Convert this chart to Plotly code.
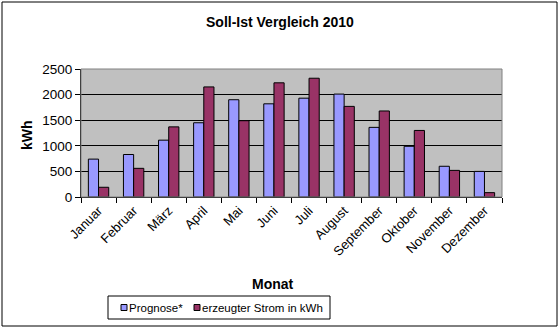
import plotly.graph_objects as go

months = ["Januar", "Februar", "März", "April", "Mai", "Juni", "Juli",
          "August", "September", "Oktober", "November", "Dezember"]
prognose = [740, 830, 1110, 1450, 1900, 1820, 1930, 2010, 1360, 990, 600, 500]
erzeugt = [190, 560, 1370, 2150, 1490, 2230, 2320, 1770, 1680, 1300, 520, 85]
y_ticks = [0, 500, 1000, 1500, 2000, 2500]
series_names = ["Prognose*", "erzeugter Strom in kWh"]
series_colors = ["#9999FF", "#993366"]

W, H = 559, 329
L, R, T, B = 81, 502, 69, 197

def px(x):
    return (x - L) / (R - L)

def py(y):
    return (B - y) / (B - T)

font = "Liberation Sans, Arial, sans-serif"

fig = go.Figure()
for vals, name, col in zip([prognose, erzeugt], series_names, series_colors):
    fig.add_trace(go.Bar(x=months, y=vals, name=name, showlegend=False,
                         marker=dict(color=col, line=dict(color="black", width=1))))

# custom compact legend
legend_items = [(121, 129, series_names[0]), (194, 202, series_names[1])]
shapes = [
    dict(type="rect", xref="paper", yref="paper", x0=px(2), x1=px(557), y0=py(2), y1=py(326),
         line=dict(color="black", width=1), layer="below"),
    dict(type="rect", xref="paper", yref="paper", x0=0, x1=1, y0=0, y1=1,
         line=dict(color="#808080", width=1), layer="above"),
    dict(type="rect", xref="paper", yref="paper", x0=px(108), x1=px(330), y0=py(296), y1=py(319),
         line=dict(color="black", width=1), fillcolor="white", layer="above"),
]
annotations = [
    dict(text="<b>Soll-Ist Vergleich 2010</b>", x=px(280), y=py(22), xref="paper", yref="paper",
         showarrow=False, font=dict(size=14), xanchor="center", yanchor="middle"),
    dict(text="<b>kWh</b>", x=px(27), y=py(135), xref="paper", yref="paper",
         showarrow=False, textangle=-90, font=dict(size=14), xanchor="center", yanchor="middle"),
    dict(text="<b>Monat</b>", x=px(273), y=py(284), xref="paper", yref="paper",
         showarrow=False, font=dict(size=14), xanchor="center", yanchor="middle"),
]
for (sx, tx, name), col in zip(legend_items, series_colors):
    shapes.append(dict(type="rect", xref="paper", yref="paper", x0=px(sx), x1=px(sx + 6),
                       y0=py(304.5), y1=py(310.5), line=dict(color="black", width=1),
                       fillcolor=col, layer="above"))
    annotations.append(dict(text=name, x=px(tx - 2), y=py(308), xref="paper", yref="paper",
                            showarrow=False, font=dict(size=11.5), xanchor="left", yanchor="middle"))

fig.update_layout(
    width=W, height=H,
    margin=dict(l=L, r=W - R, t=T, b=H - B, autoexpand=False),
    paper_bgcolor="white", plot_bgcolor="#C0C0C0",
    barmode="group", bargap=0.42, bargroupgap=0,
    font=dict(family=font, size=12, color="black"),
    showlegend=False,
    xaxis=dict(type="category", tickangle=-45, ticks="outside", ticklen=5,
               tickson="boundaries", tickcolor="black", showline=True, linecolor="black",
               linewidth=1, showgrid=False, tickfont=dict(size=13), automargin=False),
    yaxis=dict(range=[0, 2500], tickvals=y_ticks, ticks="outside", ticklen=5,
               tickcolor="black", showline=True, linecolor="black", linewidth=1,
               showgrid=True, gridcolor="black", gridwidth=1, zeroline=False,
               tickfont=dict(size=13.5), automargin=False),
    annotations=annotations,
    shapes=shapes,
)

fig.write_html("out.html")
